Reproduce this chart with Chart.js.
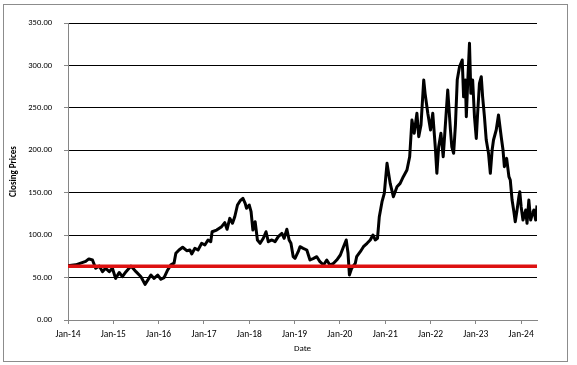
<!DOCTYPE html>
<html>
<head>
<meta charset="utf-8">
<script src="https://cdn.jsdelivr.net/npm/chart.js@4.4.1/dist/chart.umd.min.js"></script>
<style>
  html, body { margin: 0; padding: 0; background: #fff; }
  #wrap { width: 577px; height: 365px; }
</style>
</head>
<body>
<div id="wrap"><canvas id="plot" width="577" height="365"></canvas></div>
<script>
// closing prices, x = decimal year
var dates = [
  2014.00,2014.08,2014.17,2014.28,2014.39,2014.46,2014.54,2014.61,2014.69,2014.76,
  2014.83,2014.91,2014.98,2015.05,2015.13,2015.20,2015.28,2015.39,2015.50,2015.61,
  2015.70,2015.76,2015.83,2015.90,2015.98,2016.05,2016.12,2016.20,2016.27,2016.34,
  2016.38,2016.45,2016.53,2016.62,2016.69,2016.73,2016.80,2016.87,2016.95,2017.02,
  2017.09,2017.15,2017.18,2017.28,2017.39,2017.46,2017.51,2017.57,2017.63,2017.68,
  2017.74,2017.80,2017.86,2017.91,2017.94,2018.00,2018.04,2018.08,2018.13,2018.18,
  2018.24,2018.31,2018.37,2018.42,2018.50,2018.57,2018.64,2018.72,2018.77,2018.83,
  2018.88,2018.92,2018.97,2019.01,2019.08,2019.12,2019.19,2019.27,2019.34,2019.42,
  2019.49,2019.56,2019.64,2019.71,2019.78,2019.86,2019.93,2020.01,2020.08,2020.14,
  2020.18,2020.21,2020.26,2020.34,2020.37,2020.45,2020.52,2020.60,2020.67,2020.73,
  2020.78,2020.83,2020.87,2020.93,2020.98,2021.04,2021.11,2021.18,2021.26,2021.33,
  2021.40,2021.48,2021.54,2021.59,2021.64,2021.70,2021.74,2021.79,2021.85,2021.88,
  2021.94,2022.00,2022.05,2022.11,2022.14,2022.18,2022.23,2022.28,2022.33,2022.38,
  2022.44,2022.47,2022.51,2022.55,2022.59,2022.64,2022.70,2022.73,2022.77,2022.79,
  2022.82,2022.86,2022.89,2022.93,2022.97,2023.01,2023.04,2023.08,2023.12,2023.15,
  2023.19,2023.23,2023.28,2023.32,2023.36,2023.39,2023.45,2023.50,2023.56,2023.60,
  2023.63,2023.68,2023.73,2023.76,2023.80,2023.84,2023.87,2023.91,2023.95,2023.97,
  2024.00,2024.04,2024.10,2024.13,2024.17,2024.21,2024.24,2024.28,2024.32,2024.35
];
var prices = [
  64,64.5,65,67,69,72,70.7,61,63.6,57,
  61,57,61,49,56,51,57,63.6,57,51,
  42,47,53,49,53,48,50,59,65,67,
  78.6,82.5,85.7,81.7,82.5,77.8,84.5,82.5,90.4,88.4,
  94.3,92.3,104,106,110,114.7,106.9,119.8,114,121.7,
  135.5,140.6,143.4,137.5,131.6,135.5,127.6,106,115.8,94.3,
  90.4,96.3,104,92.3,94.3,92.3,98.2,102,96.3,107,
  94.3,90.4,74.6,72.7,80.5,86.4,84.5,82.5,70.7,72.7,
  74.6,68.7,64.8,70.7,64.8,66.8,70.7,76.6,86.4,94.3,
  78.6,53,61,66.8,74.6,80.5,86.4,90.4,94.3,100.2,
  94.3,96.3,121.7,139.4,149.3,184.6,161,145.3,157,161,
  168.9,176.8,192.4,235.7,220,243.6,216,229.8,282.8,267.1,
  243.6,223.9,243.6,200.3,172.9,204.2,220,192.4,231.7,271,
  223.9,204,196.4,230,283,298.5,306.4,263,282.8,239.6,
  278.9,326,267.1,282.8,239.6,214,243.6,278.9,286.7,263,
  239.6,212.1,196.4,172.9,200.3,212.1,223.9,241.6,216,200.3,
  180.7,190.5,168.9,165,141.4,127.6,115.8,129.6,145.3,151.2,
  133.5,117.8,129.6,113.9,141.4,117.8,123.7,129.6,117.8,135
];
var refLevel = 63.3;
var xStart = 2014, xEnd = 2024.35;

var fontFam = "Calibri, Carlito, Lato, sans-serif";

var pricePts = [];
for (var i = 0; i < dates.length; i++)
  pricePts.push({x: dates[i], y: prices[i]});

// grey frame round the whole chart
var frame = {
  id: 'frame',
  beforeDraw: function(chart) {
    var c = chart.ctx;
    c.save();
    c.fillStyle = '#fff';
    c.fillRect(0, 0, chart.width, chart.height);
    c.strokeStyle = '#8c8c8c';
    c.lineWidth = 1;
    c.strokeRect(3.5, 4.5, 564, 357);
    c.restore();
  }
};

new Chart(document.getElementById('plot').getContext('2d'), {
  type: 'line',
  data: {
    datasets: [
      {
        label: 'Level',
        data: [{x: xStart, y: refLevel}, {x: xEnd, y: refLevel}],
        borderColor: '#dd1111',
        borderWidth: 3.5,
        pointRadius: 0,
        order: 0
      },
      {
        label: 'Close',
        data: pricePts,
        borderColor: '#000',
        borderWidth: 3,
        borderJoinStyle: 'round',
        pointRadius: 0,
        tension: 0,
        order: 1
      }
    ]
  },
  options: {
    responsive: false,
    animation: false,
    layout: { padding: { left: 4, top: 23, right: 40, bottom: 7 } },
    plugins: { legend: { display: false }, tooltip: { enabled: false } },
    scales: {
      x: {
        type: 'linear',
        min: xStart,
        max: xEnd,
        afterFit: function(s) { s.height = 38; },
        border: { color: '#868686', width: 1 },
        grid: { drawOnChartArea: false, drawTicks: true, tickLength: 4, tickColor: '#868686' },
        ticks: {
          stepSize: 1,
          includeBounds: false,
          maxRotation: 0,
          padding: 5,
          color: '#000',
          font: { family: fontFam, size: 9.5 },
          callback: function(v) { return 'Jan-' + String(v).slice(2); }
        },
        title: { display: true, text: 'Date', color: '#000', font: { family: fontFam, size: 9 } }
      },
      y: {
        min: 0,
        max: 350,
        afterFit: function(s) { s.width = 64; },
        border: { color: '#868686', width: 1 },
        grid: { color: '#000', lineWidth: 1, drawTicks: true, tickLength: 4, tickColor: '#868686' },
        ticks: {
          stepSize: 50,
          padding: 12,
          color: '#000',
          font: { family: fontFam, size: 8.5 },
          callback: function(v) { return v.toFixed(2); }
        },
        title: { display: true, text: 'Closing Prices', color: '#000', font: { family: fontFam, size: 9, weight: 'bold' } }
      }
    }
  },
  plugins: [frame]
});
</script>
</body>
</html>
